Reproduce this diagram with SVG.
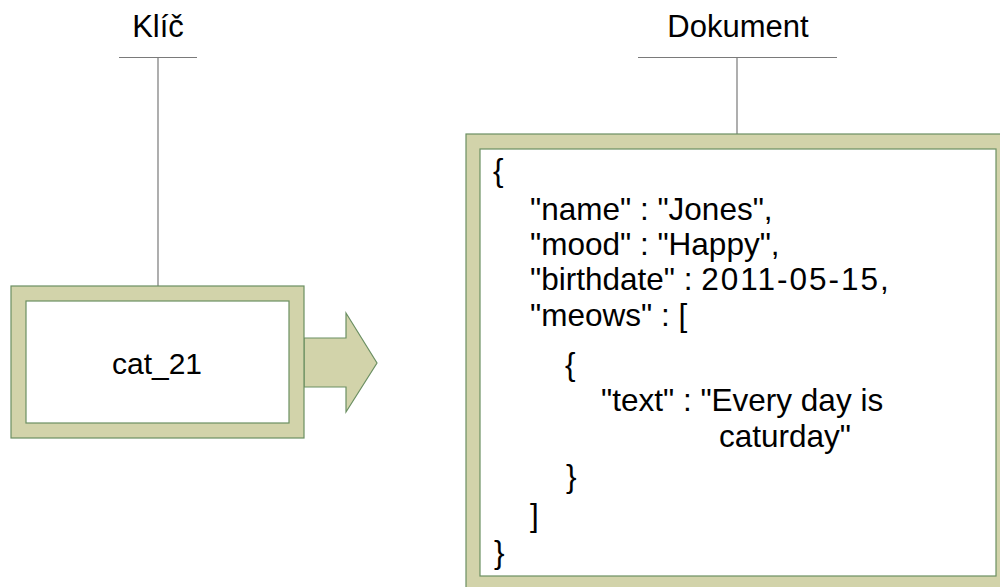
<svg xmlns="http://www.w3.org/2000/svg" width="1000" height="587" viewBox="0 0 1000 587">
  <style>
    .frame { fill: #d2d3aa; stroke: #6b8f62; stroke-width: 1.2; }
    .panel { fill: #ffffff; stroke: #6b8f62; stroke-width: 1.2; }
    .lead { fill: none; stroke: #7a7a7a; stroke-width: 1.2; }
    .label { font-family: "Liberation Sans", Arial, sans-serif; font-size: 31px; fill: #000; }
    .code { font-family: "Liberation Sans", Arial, sans-serif; font-size: 31.5px; fill: #000; }
    .num { letter-spacing: 2px; }
  </style>
  <rect width="1000" height="587" fill="#ffffff"/>

  <!-- callout labels -->
  <g id="label-key">
    <text class="label" x="158" y="37" text-anchor="middle">Klíč</text>
  </g>
  <g id="label-document">
    <text class="label" x="738" y="37" text-anchor="middle">Dokument</text>
  </g>

  <!-- connectors: callout leaders and the key-to-document arrow -->
  <g id="connectors">
    <path class="lead" d="M119 57.5H197M158 57.5V286"/>
    <path class="lead" d="M638 57.5H837M737 57.5V134"/>
    <polygon class="frame" points="304,338 346,338 346,313 377,363 346,412 346,387 304,387"/>
  </g>

  <!-- key node -->
  <g id="key">
    <rect class="frame" x="11" y="286" width="293" height="152"/>
    <rect class="panel" x="26" y="301" width="263" height="122"/>
    <text class="label" x="157" y="374" text-anchor="middle" style="font-size:30px">cat_21</text>
  </g>

  <!-- document node -->
  <g id="document">
    <rect class="frame" x="466" y="134" width="550" height="470"/>
    <rect class="panel" x="480" y="149" width="516" height="427"/>
    <text class="code" x="493" y="181">{</text>
    <text class="code" x="530" y="220">"name" : "Jones",</text>
    <text class="code" x="530" y="255">"mood" : "Happy",</text>
    <text class="code" x="530" y="290">"birthdate" : <tspan class="num">2011-05-15</tspan>,</text>
    <text class="code" x="530" y="326">"meows" : [</text>
    <text class="code" x="565" y="375">{</text>
    <text class="code" x="601" y="411">"text" : "Every day is</text>
    <text class="code" x="719" y="447">caturday"</text>
    <text class="code" x="566" y="487">}</text>
    <text class="code" x="530" y="526">]</text>
    <text class="code" x="494" y="563">}</text>
  </g>
</svg>
